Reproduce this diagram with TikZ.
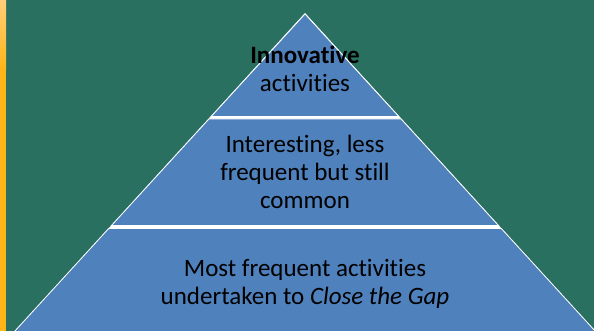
\documentclass[tikz,border=0pt]{standalone}
\usepackage{fontspec}
\setmainfont{Carlito}[Ligatures=NoCommon]
\usetikzlibrary{positioning}
\definecolor{bggreen}{RGB}{41,112,96}
\definecolor{tierblue}{RGB}{79,129,189}
\definecolor{stripyellow}{RGB}{255,181,24}
\definecolor{stripyellowlight}{RGB}{255,206,120}

\begin{document}
\begin{tikzpicture}[x=1pt, y=-1pt,
  tier/.style={fill=tierblue, draw=white, line width=0.8pt},
  tiertext/.style={align=center, text=black, font=\fontsize{25}{28}\selectfont}]
  \useasboundingbox (0,0) rectangle (594,331);
  \clip (0,0) rectangle (594,331);
  % baggrund
  \fill[bggreen] (0,0) rectangle (594,331);
  \shade[top color=stripyellowlight, bottom color=stripyellow] (0,0) rectangle (6,70);
  \fill[stripyellow] (0,70) rectangle (6,331);
  % pyramide, hvid bund under lagene
  \fill[white] (305,13) -- (6.7,340) -- (603.3,340) -- cycle;
  \draw[tier] (305,14) -- (211.2,116.5) -- (398.8,116.5) -- cycle;
  \draw[tier] (208.9,119) -- (111.5,225.5) -- (498.5,225.5) -- (401.1,119) -- cycle;
  \draw[tier] (108.7,228.5) -- (6.7,340) -- (603.3,340) -- (501.3,228.5) -- cycle;
  % tekster
  \node[tiertext] (top) at (305,69) {\textbf{Innovative}\\activities};
  \node[tiertext] (middle) at (305,171.5) {Interesting, less\\frequent but still\\common};
  \node[tiertext] (bottom) at (305,284) {Most frequent activities\\undertaken to \textit{Close the Gap}};
\end{tikzpicture}
\end{document}
